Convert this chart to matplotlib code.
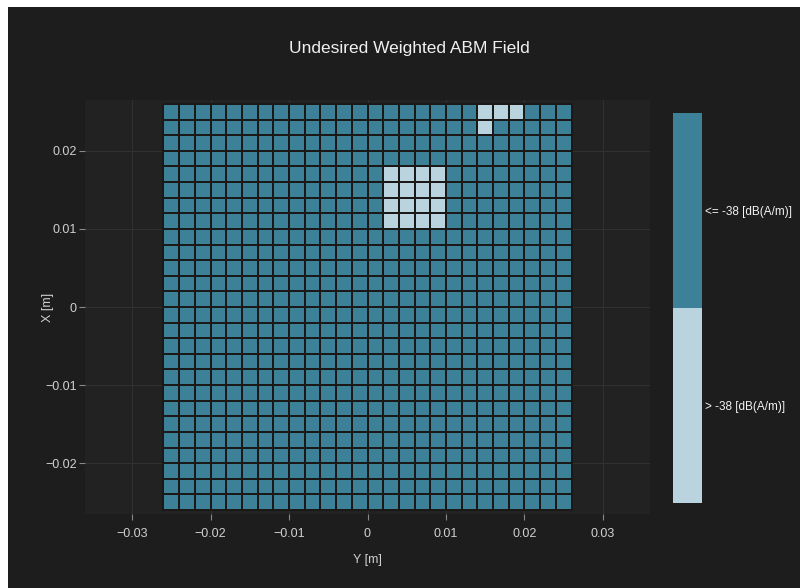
import numpy as np
import matplotlib
matplotlib.use("Agg")
import matplotlib.pyplot as plt
from matplotlib.colors import ListedColormap, BoundaryNorm
from matplotlib.patches import Rectangle

# ---- data ----
y_centers = [round(-0.025 + 0.002 * i, 3) for i in range(26)]   # horizontal axis (Y [m])
x_centers = [round(0.025 - 0.002 * i, 3) for i in range(26)]    # vertical axis (X [m]), top to bottom
# 'L' = > -38 dB(A/m) (light), '.' = <= -38 dB(A/m) (dark); rows listed from top (X=0.025) to bottom
field_rows = [
    "....................LLL...",
    "....................L.....",
    "..........................",
    "..........................",
    "..............LLLL........",
    "..............LLLL........",
    "..............LLLL........",
    "..............LLLL........",
    "..........................",
    "..........................",
    "..........................",
    "..........................",
    "..........................",
    "..........................",
    "..........................",
    "..........................",
    "..........................",
    "..........................",
    "..........................",
    "..........................",
    "..........................",
    "..........................",
    "..........................",
    "..........................",
    "..........................",
    "..........................",
]
class_labels = ["> -38 [dB(A/m)]", "<= -38 [dB(A/m)]"]
x_ticks = [-0.03, -0.02, -0.01, 0, 0.01, 0.02, 0.03]
y_ticks = [-0.02, -0.01, 0, 0.01, 0.02]

# ---- styling ----
light = "#b9d4de"
dark = "#3d8199"
paper = "#1d1d1d"
plotbg = "#222222"
grid_c = "#313131"
text_c = "#d0d0d0"
FONT = "Liberation Sans"

Z = np.array([[0 if ch == "L" else 1 for ch in row] for row in field_rows])
cmap = ListedColormap([light, dark])
norm = BoundaryNorm([-0.5, 0.5, 1.5], cmap.N)

fig = plt.figure(figsize=(8, 5.88), dpi=100, facecolor="white")
fig.patches.append(Rectangle((8 / 800, 0), 1, 1 - 7 / 588, transform=fig.transFigure,
                             facecolor=paper, edgecolor="none", zorder=-10))

ax = fig.add_axes([85 / 800, 74 / 588, 565 / 800, 414 / 588])
ax.set_facecolor(plotbg)
dx = 0.002
ye = np.concatenate([[y_centers[0] - dx / 2], np.array(y_centers) + dx / 2])
xc = np.array(x_centers)
xe = np.concatenate([[xc[0] + dx / 2], xc - dx / 2])
ax.pcolormesh(ye, xe, Z, cmap=cmap, norm=norm, edgecolors="#1b1818", linewidth=1.1)
ax.set_xlim(-0.036, 0.036)
ax.set_ylim(-0.0265, 0.0265)
ax.set_xticks(x_ticks)
ax.set_yticks(y_ticks)
fmt = lambda v: "0" if v == 0 else ("\u2212%.2f" % abs(v) if v < 0 else "%.2f" % v)
ax.set_xticklabels([fmt(v) for v in x_ticks])
ax.set_yticklabels([fmt(v) for v in y_ticks])
ax.grid(True, color=grid_c, linewidth=0.8)
ax.set_axisbelow(True)
for s in ax.spines.values():
    s.set_visible(False)
ax.tick_params(colors=text_c, labelsize=9, length=4, width=0.8, direction="out", pad=2)
ax.tick_params(axis="x", pad=6)
for lbl in ax.get_xticklabels() + ax.get_yticklabels():
    lbl.set_fontfamily(FONT)
ax.tick_params(axis="both", color="#888888")
ax.set_xlabel("Y [m]", color=text_c, fontsize=9, family=FONT)
ax.set_ylabel("X [m]", color=text_c, fontsize=9, family=FONT)
ax.xaxis.set_label_coords(0.5, -(560 - 514) / 414, transform=ax.transAxes)
ax.yaxis.set_label_coords(-(85 - 48) / 565, 0.5, transform=ax.transAxes)
ax.xaxis.label.set_va("center")
ax.yaxis.label.set_va("center")

fig.text(409 / 800, 1 - 48 / 588, "Undesired Weighted ABM Field", ha="center", va="center",
         color="#f0f0f0", fontsize=12.5, family=FONT)

cax = fig.add_axes([673 / 800, 85 / 588, 29 / 800, 390 / 588])
cax.imshow(np.array([[1], [0]]), cmap=cmap, norm=norm, aspect="auto", extent=[0, 1, 0, 1])
cax.set_xticks([])
cax.yaxis.tick_right()
cax.set_yticks([0.25, 0.75])
cax.set_yticklabels(class_labels)
cax.tick_params(axis="y", length=0, pad=2, labelsize=8.5, colors="#f2f2f2")
for lbl in cax.get_yticklabels():
    lbl.set_fontfamily(FONT)
for s in cax.spines.values():
    s.set_visible(False)

fig.savefig("out.png", dpi=100, facecolor=fig.get_facecolor())
